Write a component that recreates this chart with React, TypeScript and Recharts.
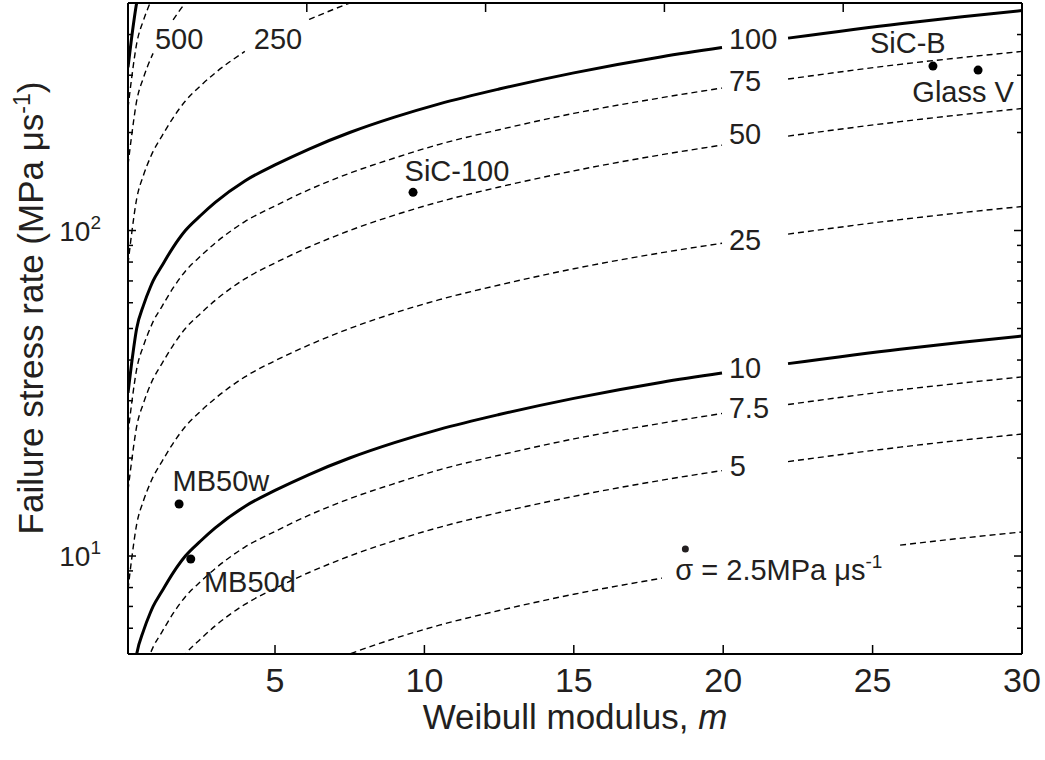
import React from "react";
import { ComposedChart, Line, Scatter, XAxis, YAxis, ReferenceDot } from "recharts";

const FONT = "'Liberation Sans', Arial, Helvetica, sans-serif";
const INK = "#231f20";

// Weibull modulus values shared by every contour
const modulus = [0.08, 0.2, 0.37, 0.6, 0.82, 0.92, 1.2, 1.59, 2, 2.5, 3, 3.99, 5, 6.14, 7.5, 9, 10.5, 12.5, 15, 17.95, 19.96, 21, 22.17, 25.92, 28, 30];

// failure stress rate along each contour of constant loading rate (null = break for the label)
const rate1000 = [317, 390, 500, 590, 667, 700, null, null, null, null, null, null, null, null, null, null, null, null, null, null, null, null, null, null, null, null];
const rate750 = [238, 293, 375, 443, 500, 525, 581, 666, 750, null, null, null, null, null, null, null, null, null, null, null, null, null, null, null, null, null];
const rate500 = [159, 195, 250, 295, 334, 350, null, 444, 500, 555, 610, null, null, null, null, null, null, null, null, null, null, null, null, null, null, null];
const rate250 = [79, 97.5, 125, 148, 167, 175, 194, 222, 250, 278, 305, 355, null, 445, 500, 558, 612, null, null, null, null, null, null, null, null, null];
const rate100 = [31.7, 39, 50, 59, 66.7, 70, 77.5, 88.8, 100, 111, 122, 142, 159, 178, 200, 223, 245, 272, 305, 342, 365, null, 390, 432, 454, 474];
const rate75 = [23.8, 29.3, 37.5, 44.3, 50, 52.5, 58.1, 66.6, 75, 83.3, 91.5, 106.5, 119, 133.5, 150, 167, 184, 204, 229, 256, 274, null, 292, 324, 340, 355];
const rate50 = [15.9, 19.5, 25, 29.5, 33.4, 35, 38.8, 44.4, 50, 55.5, 61, 71, 79.5, 89, 100, 111.5, 122.5, 136, 152.5, 171, 183, null, 195, 216, 227, 237];
const rate25 = [7.9, 9.75, 12.5, 14.8, 16.7, 17.5, 19.4, 22.2, 25, 27.8, 30.5, 35.5, 39.8, 44.5, 50, 55.8, 61.3, 68, 76.3, 85.5, 91.4, null, 97.5, 108, 113.5, 118.5];
const rate10 = [3.17, 3.9, 5, 5.9, 6.67, 7, 7.75, 8.88, 10, 11.1, 12.2, 14.2, 15.9, 17.8, 20, 22.3, 24.5, 27.2, 30.5, 34.2, 36.5, null, 39, 43.2, 45.4, 47.4];
const rate7_5 = [2.38, 2.93, 3.75, 4.43, 5, 5.25, 5.81, 6.66, 7.5, 8.33, 9.15, 10.65, 11.9, 13.35, 15, 16.7, 18.4, 20.4, 22.9, 25.6, 27.4, null, 29.2, 32.4, 34, 35.5];
const rate5 = [1.59, 1.95, 2.5, 2.95, 3.34, 3.5, 3.88, 4.44, 5, 5.55, 6.1, 7.1, 7.95, 8.9, 10, 11.15, 12.25, 13.6, 15.25, 17.1, 18.3, null, 19.5, 21.6, 22.7, 23.7];
const rate2_5 = [0.79, 0.98, 1.25, 1.48, 1.67, 1.75, 1.94, 2.22, 2.5, 2.78, 3.05, 3.55, 3.98, 4.45, 5, 5.58, 6.13, 6.8, 7.63, 8.55, null, null, null, 10.8, 11.35, 11.85];

const contours = [
  { key: "r1000", values: rate1000, thick: true },
  { key: "r750", values: rate750, thick: false },
  { key: "r500", values: rate500, thick: false },
  { key: "r250", values: rate250, thick: false },
  { key: "r100", values: rate100, thick: true },
  { key: "r75", values: rate75, thick: false },
  { key: "r50", values: rate50, thick: false },
  { key: "r25", values: rate25, thick: false },
  { key: "r10", values: rate10, thick: true },
  { key: "r7_5", values: rate7_5, thick: false },
  { key: "r5", values: rate5, thick: false },
  { key: "r2_5", values: rate2_5, thick: false },
];

// contour labels (data coordinates)
const contourText = ["500", "250", "100", "75", "50", "25", "10", "7.5", "5"];
const contourTextM = [1.79, 5.1, 21.0, 20.73, 20.73, 20.73, 20.73, 20.86, 20.49];
const contourTextV = [390, 390, 390, 288, 198, 94, 37.8, 28.5, 18.9];

// measured materials
const sampleNames = ["SiC-100", "SiC-B", "Glass V", "MB50w", "MB50d"];
const sampleModulus = [9.62, 27.02, 28.53, 1.79, 2.18];
const sampleRate = [131, 320, 311, 14.45, 9.79];
const sampleLabelM = [11.09, 26.18, 28.03, 3.19, 4.16];
const sampleLabelV = [153, 377, 268, 17.1, 8.32];

const xTicks = [5, 10, 15, 20, 25, 30];
const yTicks = [6, 7, 8, 9, 10, 20, 30, 40, 50, 60, 70, 80, 90, 100, 200, 300, 400];
const yMajor = [10, 100];

const rows = modulus.map((m, i) => {
  const row: Record<string, number | null> = { m };
  contours.forEach((c) => {
    row[c.key] = c.values[i];
  });
  return row;
});

const samples = sampleNames.map((name, i) => ({ name, m: sampleModulus[i], v: sampleRate[i] }));

const BottomTick = ({ x, y, payload }: any) => (
  <g>
    <line x1={x} y1={y} x2={x} y2={y - 9} stroke="#000" strokeWidth={1.5} />
    <text x={x} y={y + 38} textAnchor="middle" fontSize={34} fontFamily={FONT} fill={INK}>
      {payload.value}
    </text>
  </g>
);

const TopTick = ({ x, y }: any) => <line x1={x} y1={y} x2={x} y2={y + 9} stroke="#000" strokeWidth={1.5} />;

const LeftTick = ({ x, y, payload }: any) => {
  const major = yMajor.includes(payload.value);
  return (
    <g>
      <line x1={x} y1={y} x2={x + (major ? 8 : 5)} y2={y} stroke="#000" strokeWidth={1.5} />
      {major && (
        <text x={x - 27} y={y} dy="0.36em" textAnchor="end" fontSize={28} fontFamily={FONT} fill={INK}>
          10
          <tspan dy={-12} fontSize={19}>
            {payload.value === 10 ? 1 : 2}
          </tspan>
        </text>
      )}
    </g>
  );
};

const RightTick = ({ x, y, payload }: any) => {
  const major = yMajor.includes(payload.value);
  return <line x1={x} y1={y} x2={x - (major ? 8 : 5)} y2={y} stroke="#000" strokeWidth={1.5} />;
};

const XTitle = () => (
  <text x={575} y={729} textAnchor="middle" fontSize={35} fontFamily={FONT} fill={INK}>
    Weibull modulus, <tspan fontStyle="italic">m</tspan>
  </text>
);

const YTitle = () => (
  <text
    x={30}
    y={308}
    transform="rotate(-90 30 308)"
    dy="0.36em"
    textAnchor="middle"
    fontSize={35}
    fontFamily={FONT}
    fill={INK}
  >
    Failure stress rate (MPa μs
    <tspan dy={-13} fontSize={23}>
      -1
    </tspan>
    <tspan dy={13}>)</tspan>
  </text>
);

const textShape = (label: string) => (p: any) =>
  (
    <text x={p.cx} y={p.cy} dy="0.36em" textAnchor="middle" fontSize={29} fontFamily={FONT} fill={INK}>
      {label}
    </text>
  );

// sigma-dot note: the dot over sigma is drawn as a small circle
const rateNote = (p: any) => (
  <g>
    <text x={p.cx - 107} y={p.cy} dy="0.36em" textAnchor="start" fontSize={29} fontFamily={FONT} fill={INK}>
      σ = 2.5MPa μs
      <tspan dy={-12} fontSize={19}>
        -1
      </tspan>
    </text>
    <circle cx={p.cx - 97} cy={p.cy - 21} r={3.5} fill={INK} />
  </g>
);

export default function App() {
  return (
    <div style={{ position: "absolute", left: 0, top: 0, background: "#fff" }}>
      <ComposedChart width={1045} height={760} data={rows} margin={{ top: 2, right: 22, bottom: 105, left: 127 }}>
        <XAxis
          dataKey="m"
          type="number"
          domain={[0.08, 30]}
          allowDataOverflow
          ticks={xTicks}
          interval={0}
          height={1}
          tickSize={0}
          tickMargin={0}
          tickLine={false}
          tick={<BottomTick />}
          axisLine={{ stroke: "#000", strokeWidth: 2 }}
          label={<XTitle />}
        />
        <XAxis
          xAxisId="top"
          orientation="top"
          type="number"
          domain={[0.08, 30]}
          allowDataOverflow
          ticks={xTicks}
          interval={0}
          height={1}
          tickSize={0}
          tickMargin={0}
          tickLine={false}
          tick={<TopTick />}
          axisLine={{ stroke: "#000", strokeWidth: 2 }}
        />
        <YAxis
          type="number"
          scale="log"
          domain={[5, 500]}
          allowDataOverflow
          ticks={yTicks}
          interval={0}
          width={1}
          tickSize={0}
          tickMargin={0}
          tickLine={false}
          tick={<LeftTick />}
          axisLine={{ stroke: "#000", strokeWidth: 2 }}
          label={<YTitle />}
        />
        <YAxis
          yAxisId="right"
          orientation="right"
          type="number"
          scale="log"
          domain={[5, 500]}
          allowDataOverflow
          ticks={yTicks}
          interval={0}
          width={1}
          tickSize={0}
          tickMargin={0}
          tickLine={false}
          tick={<RightTick />}
          axisLine={{ stroke: "#000", strokeWidth: 2 }}
        />
        {contours.map((c) => (
          <Line
            key={c.key}
            dataKey={c.key}
            type="monotone"
            stroke="#000"
            strokeWidth={c.thick ? 3 : 1.4}
            strokeDasharray={c.thick ? undefined : "6 4"}
            dot={false}
            activeDot={false}
            isAnimationActive={false}
          />
        ))}
        <Scatter
          data={samples}
          dataKey="v"
          isAnimationActive={false}
          shape={(p: any) => <circle cx={p.cx} cy={p.cy} r={4.5} fill="#000" />}
        />
        {contourText.map((t, i) => (
          <ReferenceDot key={t} x={contourTextM[i]} y={contourTextV[i]} r={0} shape={textShape(t)} />
        ))}
        <ReferenceDot x={21.98} y={9.06} r={0} shape={rateNote} />
        {sampleNames.map((n, i) => (
          <ReferenceDot key={n} x={sampleLabelM[i]} y={sampleLabelV[i]} r={0} shape={textShape(n)} />
        ))}
      </ComposedChart>
    </div>
  );
}
